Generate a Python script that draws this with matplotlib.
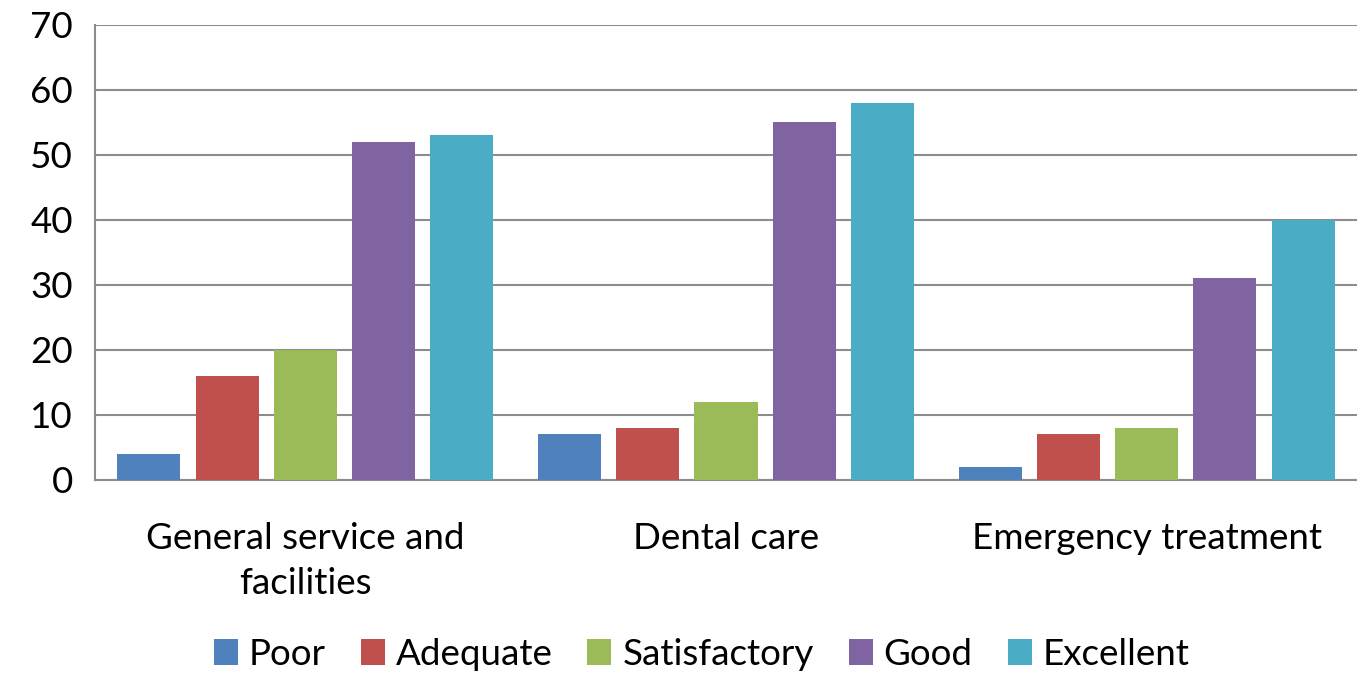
import numpy as np
import matplotlib
matplotlib.use('Agg')
import matplotlib.pyplot as plt

plt.rcParams['font.family'] = ['Lato', 'DejaVu Sans']

categories = ['General service and\nfacilities', 'Dental care', 'Emergency treatment']
series = ['Poor', 'Adequate', 'Satisfactory', 'Good', 'Excellent']
poor = [4, 7, 2]
adequate = [16, 8, 7]
satisfactory = [20, 12, 8]
good = [52, 55, 31]
excellent = [53, 58, 40]
colors = ['#4F81BD', '#C0504D', '#9BBB59', '#8064A2', '#4BACC6']

values = [poor, adequate, satisfactory, good, excellent]

fig = plt.figure(figsize=(13.57, 6.75), dpi=100)
ax = fig.add_axes([0.070, 0.289, 0.93, 0.674])

x = np.arange(len(categories))
step = 0.186
width = 0.15
for i, (name, vals) in enumerate(zip(series, values)):
    ax.bar(x + (i - 2) * step, vals, width, color=colors[i], label=name, zorder=3)

ax.set_xlim(-0.5, 2.5)
ax.set_ylim(0, 70)
ax.set_yticks(range(0, 71, 10))
ax.yaxis.grid(True, color='#8c8c8c', linewidth=1.5, zorder=0)
ax.set_xticks(x)
ax.set_xticklabels(categories, fontsize=26.5, linespacing=1.45)
ax.tick_params(axis='x', length=0, pad=30)
ax.tick_params(axis='y', length=0, labelsize=26.5, pad=16)
for s in ['top', 'right']:
    ax.spines[s].set_visible(False)
ax.spines['left'].set_color('#8c8c8c')
ax.spines['left'].set_linewidth(1.5)
ax.spines['bottom'].set_color('#8c8c8c')
ax.spines['bottom'].set_linewidth(1.5)

fig.legend(loc='center', bbox_to_anchor=(0.517, 0.03), ncol=5, frameon=False,
           fontsize=26.5, handlelength=0.65, handleheight=0.7, handletextpad=0.3,
           columnspacing=0.95)

fig.savefig('out.png', dpi=100)
